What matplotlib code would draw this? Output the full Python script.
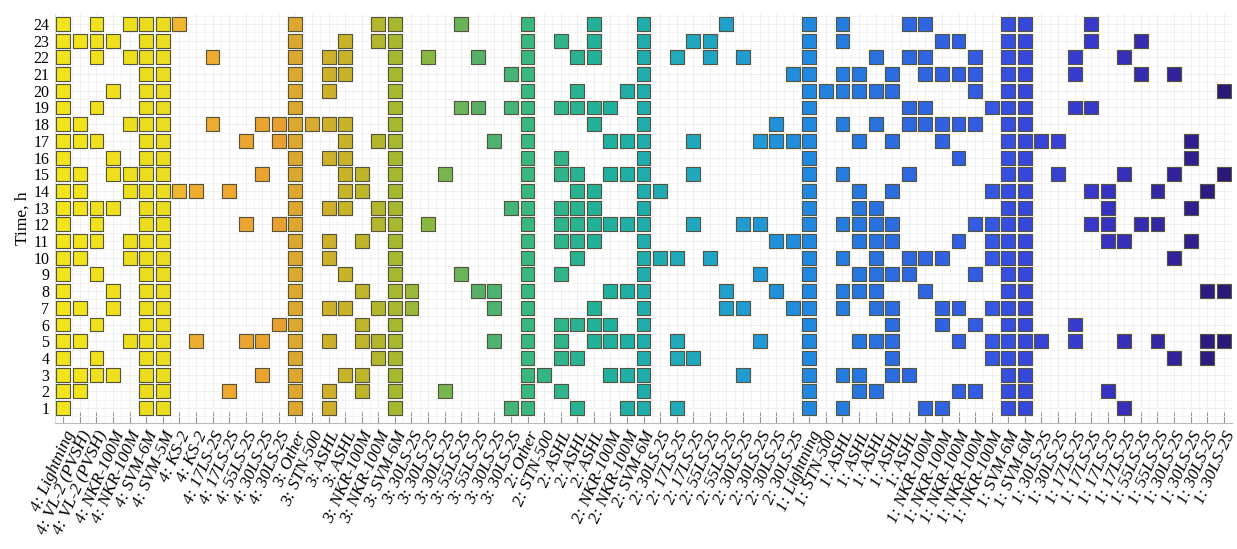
import matplotlib
matplotlib.use("Agg")
import matplotlib.pyplot as plt
from matplotlib.colors import LinearSegmentedColormap
import numpy as np

# ---- data ----
categories = [
    "4: Lightning", "4: VL-2 (PVSH)", "4: VL-2 (PVSH)", "4: NKR-100M", "4: NKR-100M",
    "4: SVM-6M", "4: SVM-5M", "4: KS-2", "4: KS-2", "4: 17LS-2S", "4: 17LS-2S",
    "4: 55LS-2S", "4: 30LS-2S", "4: 30LS-2S",
    "3: Other", "3: STN-500", "3: ASHL", "3: ASHL", "3: NKR-100M", "3: NKR-100M",
    "3: SVM-6M", "3: 30LS-2S", "3: 30LS-2S", "3: 30LS-2S", "3: 55LS-2S", "3: 55LS-2S",
    "3: 30LS-2S", "3: 30LS-2S",
    "2: Other", "2: STN-500", "2: ASHL", "2: ASHL", "2: ASHL", "2: NKR-100M",
    "2: NKR-100M", "2: SVM-6M", "2: 30LS-2S", "2: 17LS-2S", "2: 17LS-2S",
    "2: 55LS-2S", "2: 55LS-2S", "2: 30LS-2S", "2: 30LS-2S", "2: 30LS-2S", "2: 30LS-2S",
    "1: Lightning", "1: STN-500", "1: ASHL", "1: ASHL", "1: ASHL", "1: ASHL", "1: ASHL",
    "1: NKR-100M", "1: NKR-100M", "1: NKR-100M", "1: NKR-100M", "1: NKR-100M",
    "1: SVM-6M", "1: SVM-6M", "1: 30LS-2S", "1: 30LS-2S", "1: 17LS-2S", "1: 17LS-2S",
    "1: 17LS-2S", "1: 17LS-2S", "1: 55LS-2S", "1: 55LS-2S", "1: 30LS-2S", "1: 30LS-2S",
    "1: 30LS-2S", "1: 30LS-2S",
]
hours = list(range(1, 25))

# category indices active during all 24 hours
all_day = [5, 6, 14, 20, 28, 35, 45, 57, 58]

# category indices active in each hour (besides all_day ones)
active = {
    24: [0, 2, 4, 7, 19, 24, 32, 40, 47, 51, 52, 62],
    23: [0, 1, 2, 3, 17, 19, 30, 32, 38, 39, 47, 53, 54, 62, 65],
    22: [0, 2, 4, 9, 16, 17, 22, 25, 31, 32, 37, 39, 41, 49, 51, 52, 55, 61, 64],
    21: [0, 16, 17, 27, 44, 47, 48, 50, 52, 53, 54, 55, 61, 65, 67],
    20: [0, 3, 16, 31, 34, 46, 47, 48, 49, 50, 55, 70],
    19: [0, 2, 24, 25, 27, 30, 31, 32, 33, 51, 52, 56, 61, 62],
    18: [0, 1, 4, 9, 12, 13, 15, 16, 17, 32, 43, 47, 49, 51, 52, 53, 54, 55],
    17: [0, 1, 2, 11, 13, 17, 19, 26, 33, 34, 38, 42, 43, 44, 48, 50, 53, 59, 60, 68],
    16: [0, 3, 16, 17, 30, 54, 68],
    15: [0, 1, 3, 4, 12, 17, 18, 23, 30, 31, 33, 34, 38, 47, 51, 60, 64, 67, 70],
    14: [0, 1, 4, 7, 8, 10, 17, 18, 31, 32, 36, 48, 50, 56, 62, 63, 66, 69],
    13: [0, 1, 2, 3, 16, 17, 19, 27, 30, 31, 32, 48, 49, 63, 68],
    12: [0, 2, 11, 13, 19, 22, 30, 31, 32, 33, 34, 38, 41, 42, 47, 48, 49, 50,
         55, 56, 62, 63, 65, 66],
    11: [0, 1, 2, 4, 16, 18, 30, 31, 32, 43, 44, 48, 49, 50, 54, 56, 63, 64, 68],
    10: [0, 1, 4, 16, 31, 36, 37, 39, 47, 49, 51, 52, 53, 56, 67],
    9: [0, 2, 17, 24, 30, 42, 48, 49, 50, 51, 55],
    8: [0, 3, 18, 21, 25, 26, 33, 34, 40, 43, 47, 48, 49, 52, 69, 70],
    7: [0, 1, 3, 16, 17, 19, 21, 26, 32, 40, 41, 44, 47, 49, 50, 53, 54, 56],
    6: [0, 2, 13, 18, 30, 31, 32, 33, 50, 53, 55, 61],
    5: [0, 1, 4, 8, 11, 12, 16, 18, 19, 26, 30, 32, 33, 34, 37, 42, 48, 49, 50,
        54, 56, 59, 61, 64, 66, 69, 70],
    4: [0, 2, 19, 30, 31, 37, 38, 50, 56, 67, 69],
    3: [0, 1, 2, 3, 12, 17, 18, 29, 33, 34, 41, 47, 48, 50, 51],
    2: [0, 1, 10, 16, 18, 23, 30, 48, 49, 54, 55, 63],
    1: [0, 16, 27, 31, 34, 37, 47, 52, 53, 64],
}

# ---- style ----
anchor_pos = [0, 6, 7, 13, 14, 17, 20, 22, 25, 28, 33, 38, 42, 45, 50, 56, 58, 62, 66, 70]
anchor_col = ["#f2e41c", "#eadc1e", "#f0b030", "#eaa030", "#dca830", "#c8b428",
              "#a8b830", "#88b840", "#58b068", "#38b880", "#20b0a0", "#20a8c0",
              "#2098d8", "#2088e0", "#2c6ce0", "#3458e4", "#3848dc", "#3838cc",
              "#3428a8", "#2c1878"]
n = len(categories)
cmap = LinearSegmentedColormap.from_list(
    "grp", list(zip(np.array(anchor_pos) / (n - 1), anchor_col)))

plt.rcParams["font.family"] = ["Liberation Serif", "DejaVu Serif"]

fig = plt.figure(figsize=(12.37, 5.49), dpi=100)
ax = fig.add_axes([0.0445, 0.2295, 0.9515, 0.745])

xs, ys = [], []
for h in hours:
    for c in sorted(set(active.get(h, []) + all_day)):
        xs.append(c)
        ys.append(h)
xs = np.array(xs)
ys = np.array(ys)
colors = [cmap(c / (n - 1)) for c in xs]
ax.scatter(xs, ys, marker="s", s=100, c=colors, edgecolors="#55553f",
           linewidths=0.8, zorder=3)

ax.set_xlim(-0.5, n - 0.5)
ax.set_ylim(0.1, 24.6)
ax.set_xticks(range(n))
ax.set_xticklabels(categories, rotation=66, ha="right", rotation_mode="anchor",
                   fontsize=12.5, style="italic")
ax.set_yticks(hours)
ax.set_yticklabels([str(h) for h in hours], fontsize=11.5)
ax.set_xticks(np.arange(-0.5, n, 1.0), minor=True)
ax.set_yticks(np.arange(0.5, 25, 1.0), minor=True)
ax.grid(True, which="major", color="#ececec", lw=0.6, zorder=0)
ax.grid(True, which="minor", color="#f3f3f3", lw=0.6, zorder=0)
ax.tick_params(axis="x", which="major", direction="in", length=8, color="#999999",
               pad=4)
ax.tick_params(axis="y", which="major", length=0, pad=4)
ax.tick_params(which="minor", length=0)
for s in ["top", "right"]:
    ax.spines[s].set_visible(False)
ax.spines["left"].set_color("#dddddd")
ax.spines["bottom"].set_color("#bbbbbb")
ax.set_ylabel("Time, h", fontsize=12.5, labelpad=2)

fig.savefig("out.png", dpi=100)
